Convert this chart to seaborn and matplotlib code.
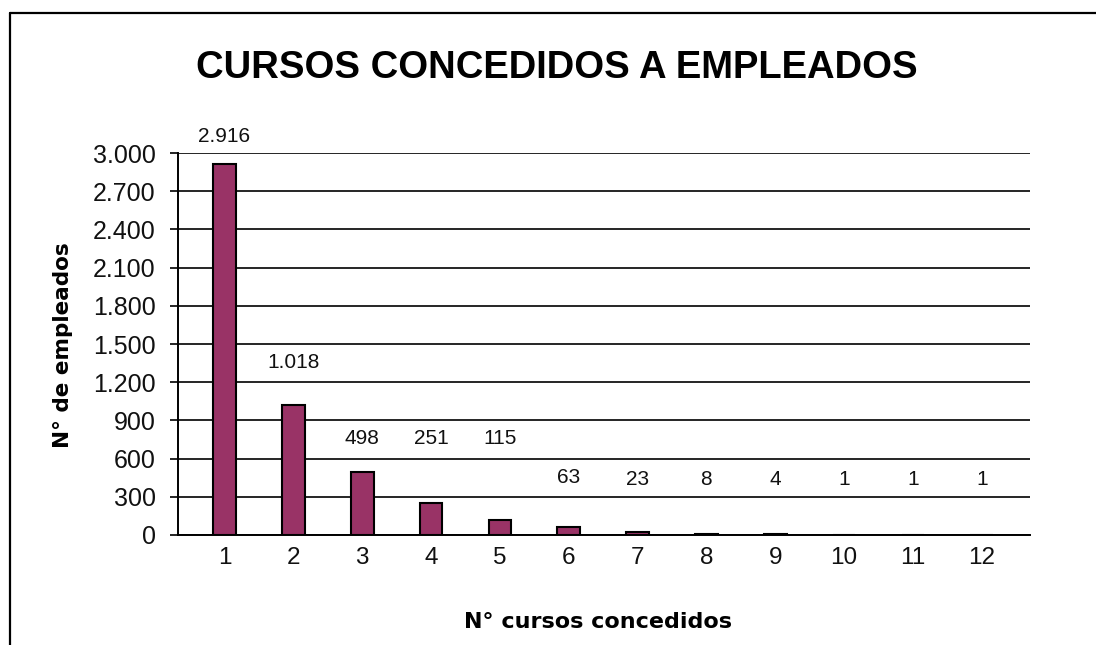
import matplotlib
matplotlib.use("Agg")
import matplotlib.pyplot as plt
import seaborn as sns
import pandas as pd
from matplotlib.lines import Line2D
from matplotlib.ticker import FuncFormatter, MultipleLocator

# ---- data ----
cursos = ["1", "2", "3", "4", "5", "6", "7", "8", "9", "10", "11", "12"]
empleados = [2916, 1018, 498, 251, 115, 63, 23, 8, 4, 1, 1, 1]
title = "CURSOS CONCEDIDOS A EMPLEADOS"
xlabel = "N° cursos concedidos"
ylabel = "N° de empleados"

df = pd.DataFrame({"cursos": cursos, "empleados": empleados})

sns.set_style("white")
plt.rcParams["font.family"] = ["Liberation Sans", "DejaVu Sans"]
plt.rcParams["text.color"] = "black"
plt.rcParams["xtick.color"] = "black"
plt.rcParams["ytick.color"] = "black"

fig = plt.figure(figsize=(10.96, 6.45), dpi=100)
ax = fig.add_axes([178 / 1096, 1 - 535 / 645, (1030 - 178) / 1096, (535 - 153) / 645])

sns.barplot(data=df, x="cursos", y="empleados", order=cursos, color="#993366",
            edgecolor="black", linewidth=1.5, width=0.33, saturation=1, ax=ax, zorder=3)

ax.set_xlim(-0.675, 11.7)
ax.set_ylim(0, 3000)
ax.yaxis.set_major_locator(MultipleLocator(300))
ax.yaxis.set_major_formatter(FuncFormatter(lambda v, p: f"{int(v):,}".replace(",", ".")))
ax.grid(axis="y", color="black", linewidth=1.2, zorder=0)
ax.grid(axis="x", visible=False)
ax.set_axisbelow(True)

for s in ["top", "right"]:
    ax.spines[s].set_visible(False)
for s in ["left", "bottom"]:
    ax.spines[s].set_color("black")
    ax.spines[s].set_linewidth(1.4)

ax.tick_params(axis="y", length=6, width=1.2, color="black", pad=10, labelsize=18,
               left=True, labelcolor="#111111")
ax.tick_params(axis="x", length=0, pad=8.5, labelsize=17.5, labelcolor="#111111")

# data labels (Excel-style placement heights)
label_heights = [3126, 1351, 754, 754, 754, 448, 432, 432, 432, 432, 432, 432]
for i, (v, h) in enumerate(zip(empleados, label_heights)):
    ax.text(i, h, f"{v:,}".replace(",", "."), ha="center", va="center",
            fontsize=15, color="#111111")

ax.set_xlabel("")
ax.set_ylabel("")
fig.text(598 / 1096, 1 - 622 / 645, xlabel, ha="center", va="center",
         fontsize=16, fontweight="bold", family="DejaVu Sans", color="black")
fig.text(63 / 1096, 1 - 345 / 645, ylabel, ha="center", va="center", rotation=90,
         fontsize=15.5, fontweight="bold", family="DejaVu Sans", color="black")
fig.text(557 / 1096, 1 - 68 / 645, title, ha="center", va="center",
         fontsize=27.5, fontweight="bold", color="black")

# frame lines (top and left)
fig.add_artist(Line2D([10 / 1096, 1.0], [1 - 13 / 645, 1 - 13 / 645],
                      transform=fig.transFigure, color="black", linewidth=1.6))
fig.add_artist(Line2D([10 / 1096, 10 / 1096], [1 - 13 / 645, 0.0],
                      transform=fig.transFigure, color="black", linewidth=1.6))

fig.savefig("out.png", dpi=100, facecolor="white")
